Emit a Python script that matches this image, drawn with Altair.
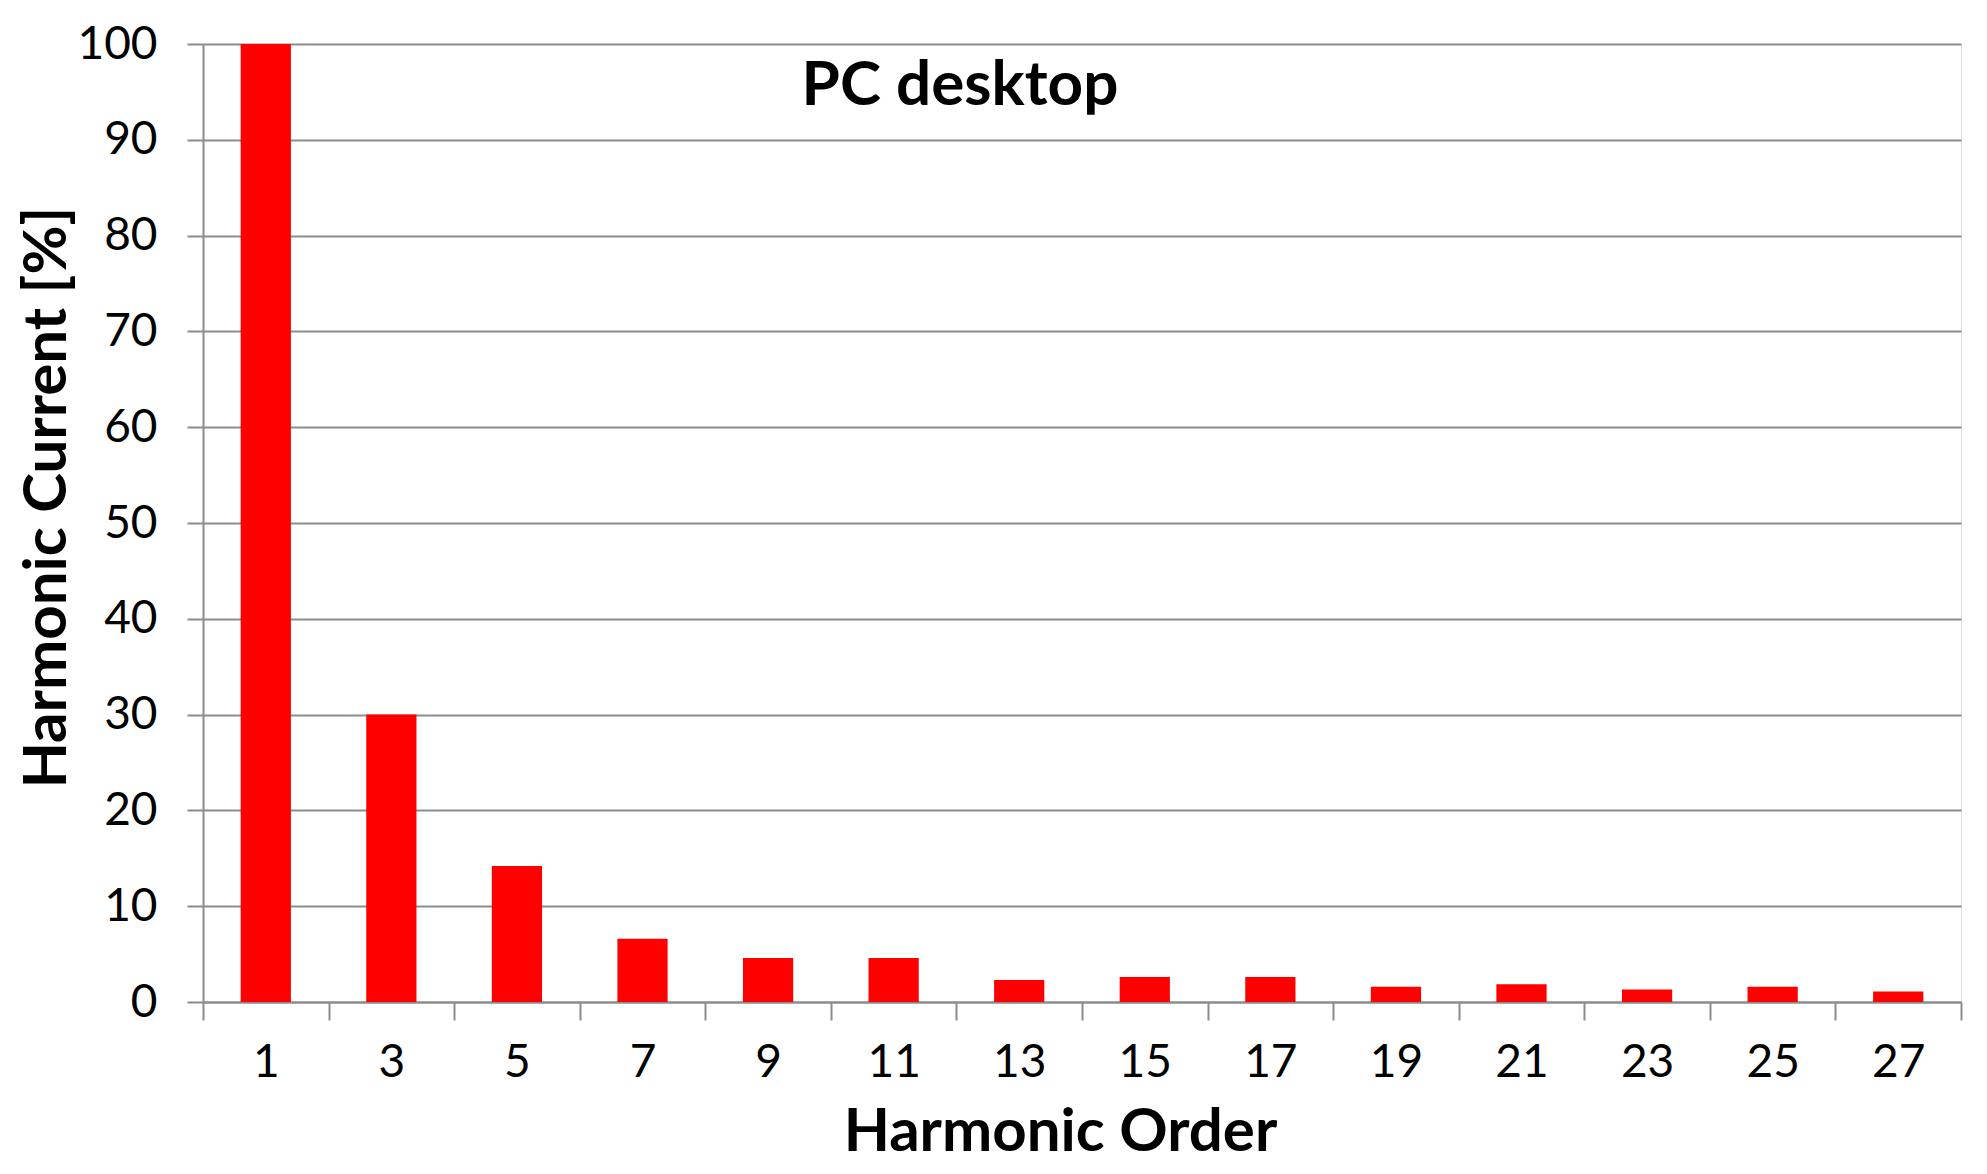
import altair as alt
import pandas as pd

orders = [1, 3, 5, 7, 9, 11, 13, 15, 17, 19, 21, 23, 25, 27]
currents = [100, 30, 14.2, 6.6, 4.6, 4.6, 2.3, 2.6, 2.6, 1.6, 1.85, 1.3, 1.6, 1.1]
y_ticks = [0, 10, 20, 30, 40, 50, 60, 70, 80, 90, 100]

df = pd.DataFrame({"order": [str(o) for o in orders], "current": currents})

FONT = "Lato"
GRAY = "#8c8c8c"

bars = alt.Chart(df).mark_bar(color="#FF0000", width=alt.RelativeBandSize(0.4)).encode(
    x=alt.X("order:N", sort=None, title="Harmonic Order",
            scale=alt.Scale(paddingInner=0, paddingOuter=0),
            axis=alt.Axis(labelAngle=0, tickBand="extent", tickSize=18, tickColor=GRAY,
                          tickWidth=2, domainColor=GRAY, domainWidth=2,
                          labelFont=FONT, labelFontSize=46, labelColor="#000",
                          labelPadding=20, titleFont=FONT, titleFontSize=60,
                          titleFontWeight="bold", titleColor="#000",
                          titleBaseline="middle", titleX=857, titleY=130,
                          grid=False)),
    y=alt.Y("current:Q", title="Harmonic Current [%]",
            scale=alt.Scale(domain=[0, 100], nice=False),
            axis=alt.Axis(values=y_ticks, tickSize=16, tickColor=GRAY, tickWidth=2,
                          domainColor=GRAY, domainWidth=2, gridColor=GRAY, gridWidth=2,
                          labelFont=FONT, labelFontSize=46, labelColor="#000",
                          labelPadding=30, titleFont=FONT, titleFontSize=60,
                          titleFontWeight="bold", titleColor="#000",
                          titleBaseline="middle", titleX=-156, titleY=453)),
)

title = alt.Chart(pd.DataFrame({"t": ["PC desktop"]})).mark_text(
    font=FONT, fontSize=62, fontWeight="bold", color="#000", align="center", baseline="middle"
).encode(text="t:N", x=alt.value(757), y=alt.value(42))

chart = alt.layer(bars, title).properties(
    width=1758, height=958,
    autosize=alt.AutoSizeParams(type="none"),
    padding={"left": 195, "top": 36, "right": 18, "bottom": 164},
).configure_view(stroke=None).configure(background="white")

chart.save("out.html", embed_options={"renderer": "svg", "actions": False})
